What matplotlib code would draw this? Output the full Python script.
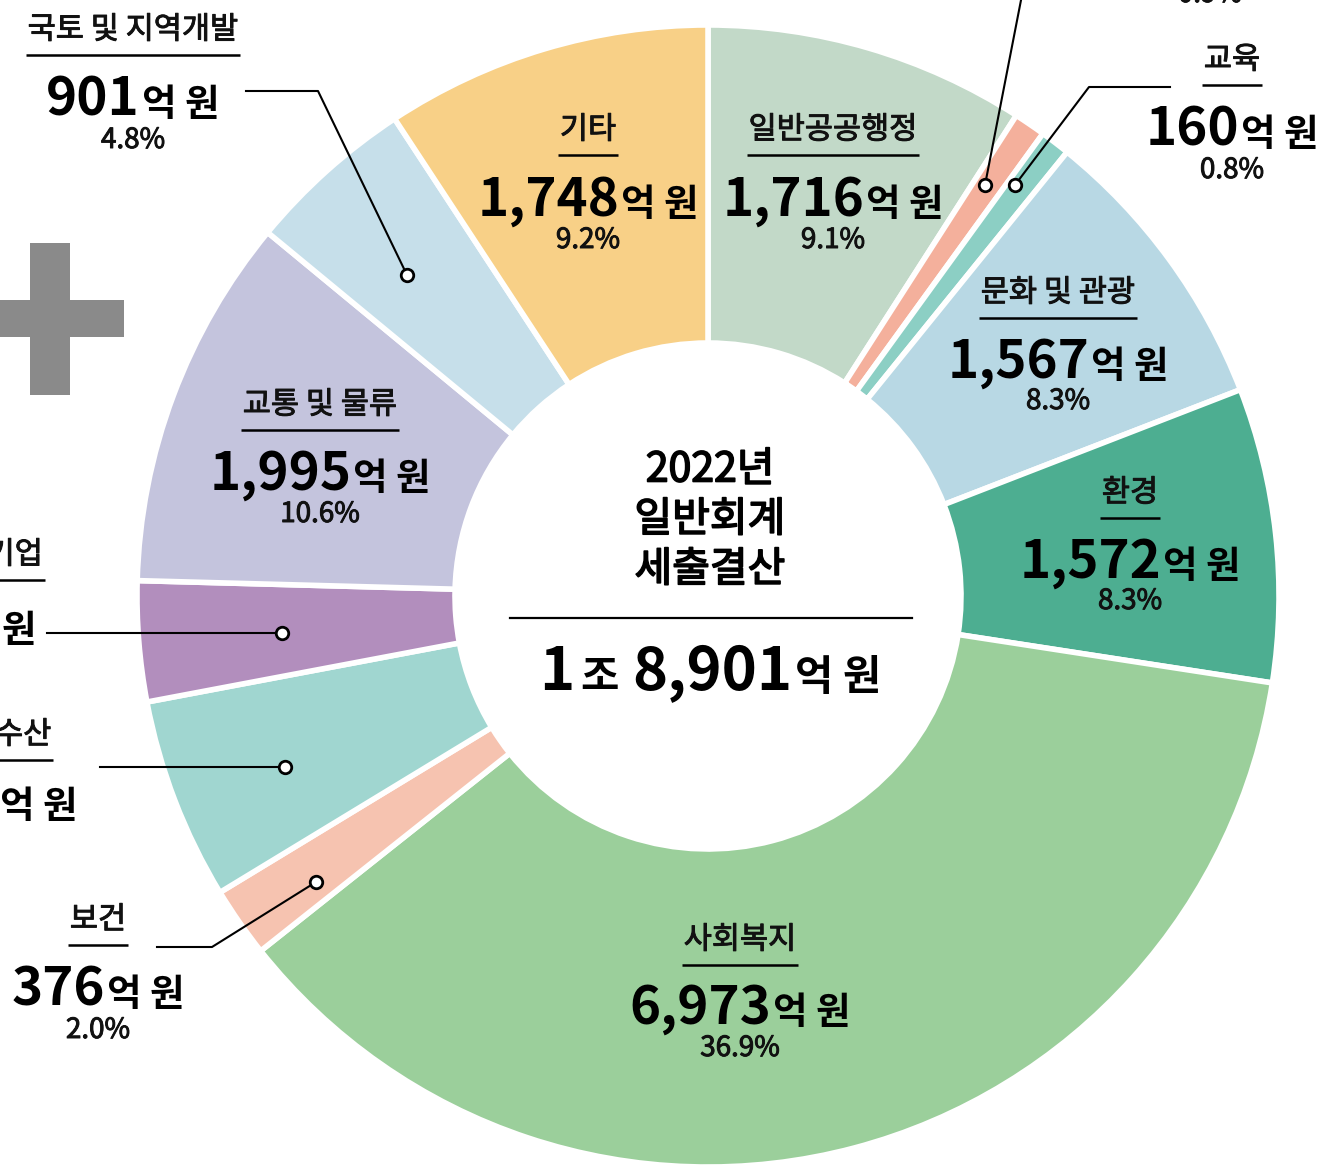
import matplotlib
matplotlib.use("Agg")
import matplotlib.pyplot as plt
import matplotlib.patheffects as pe
from matplotlib.patches import Rectangle

W, H = 1339, 1171
plt.rcParams["font.family"] = ["Noto Sans CJK KR", "DejaVu Sans"]

# 2022년 일반회계 세출결산 (억 원), 12시 방향부터 시계방향
names = ["일반공공행정", "공공질서 및 안전", "교육", "문화 및 관광", "환경", "사회복지",
         "보건", "농림해양수산", "산업·중소기업", "교통 및 물류", "국토 및 지역개발", "기타"]
values = [1716, 170, 160, 1567, 1572, 6973, 376, 1080, 643, 1995, 901, 1748]
colors = ["#c2d9c8", "#f4b09c", "#8ccfc4", "#b8d8e4", "#4dae91", "#9bcf9b",
          "#f6c3b0", "#a0d6d0", "#b28ebd", "#c4c4dd", "#c6dfea", "#f8d087"]
TOTAL = 18901

# label layout (pixel coords): centre x, title y, value baseline y, pct y
layout = {
    "일반공공행정": (833, 130, 216, 240),
    "공공질서 및 안전": (1210, -90, -30, -6),
    "교육": (1232, 60, 146, 170),
    "문화 및 관광": (1058, 293, 378, 401),
    "환경": (1130, 493, 578, 601),
    "사회복지": (740, 940, 1024, 1048),
    "보건": (98, 920, 1006, 1030),
    "농림해양수산": (-33, 735, 818, 842),
    "산업·중소기업": (-50, 555, 642, 666),
    "교통 및 물류": (320, 405, 490, 514),
    "국토 및 지역개발": (133, 30, 116, 140),
    "기타": (588, 130, 216, 240),
}
# leader lines: dot first, then towards label
leaders = {
    "공공질서 및 안전": [(985, 185), (1022, -5)],
    "교육": [(1015, 185), (1089, 87), (1170, 87)],
    "보건": [(316, 882), (212, 947), (157, 947)],
    "농림해양수산": [(285, 767), (100, 767)],
    "산업·중소기업": [(282, 633), (47, 633)],
    "국토 및 지역개발": [(407, 275), (318, 91), (246, 91)],
}

CX, CY, R_OUT, R_IN = 708, 596, 571, 253
MEDIUM = [pe.withStroke(linewidth=0.7, foreground="#111111")]

fig = plt.figure(figsize=(W / 100, H / 100), dpi=100)
ax = fig.add_axes([0, 0, 1, 1])
ax.pie(values, colors=colors, center=(CX, CY), radius=R_OUT,
       startangle=-90, counterclock=True,
       wedgeprops=dict(width=R_OUT - R_IN, edgecolor="white", linewidth=4))
ax.set_xlim(0, W)
ax.set_ylim(H, 0)
ax.set_aspect("auto")
ax.axis("off")

renderer = fig.canvas.get_renderer()


def value_line(x, y, parts, gaps):
    """parts: list of (text, size); centred at x, baseline y"""
    texts = [ax.text(0, y, s, fontsize=fs, fontweight="bold", va="baseline",
                     ha="left", color="black") for s, fs in parts]
    widths = [t.get_window_extent(renderer).width for t in texts]
    total = sum(widths) + sum(gaps)
    x0 = x - total / 2
    for i, (t, w) in enumerate(zip(texts, widths)):
        t.set_x(x0)
        x0 += w + (gaps[i] if i < len(gaps) else 0)


for name, v in zip(names, values):
    xc, ty, vy, py = layout[name]
    t = ax.text(xc, ty, name, fontsize=22, ha="center", va="center",
                color="#111111", path_effects=MEDIUM)
    tw = t.get_window_extent(renderer).width
    ax.plot([xc - tw / 2 - 2, xc + tw / 2 + 2], [ty + 25, ty + 25], color="black",
            lw=1.8, solid_capstyle="butt")
    value_line(xc, vy, [(f"{v:,}", 38), ("억 원", 27)], gaps=[2])
    ax.text(xc, py, f"{v / TOTAL * 100:.1f}%", fontsize=20, ha="center",
            va="center", color="#111111", path_effects=MEDIUM)

for name, pts in leaders.items():
    xs, ys = zip(*pts)
    ax.plot(xs, ys, color="black", lw=1.5, zorder=5)
    ax.plot(xs[0], ys[0], "o", ms=9, mfc="white", mec="black", mew=2, zorder=6)

# centre
for s, y in [("2022년", 470), ("일반회계", 520), ("세출결산", 570)]:
    ax.text(710, y, s, fontsize=29.5, ha="center", va="center",
            path_effects=[pe.withStroke(linewidth=1.2, foreground="black")])
ax.plot([510, 912], [618, 618], color="black", lw=1.6)
value_line(710, 690, [("1", 43), ("조", 30), ("8,901", 43), ("억 원", 30)],
           gaps=[6, 14, 2])

# gray plus mark at left
ax.add_patch(Rectangle((30, 243), 40, 152, color="#8a8a8a", lw=0))
ax.add_patch(Rectangle((0, 300), 124, 37, color="#8a8a8a", lw=0))

fig.savefig("out.png", dpi=100)
